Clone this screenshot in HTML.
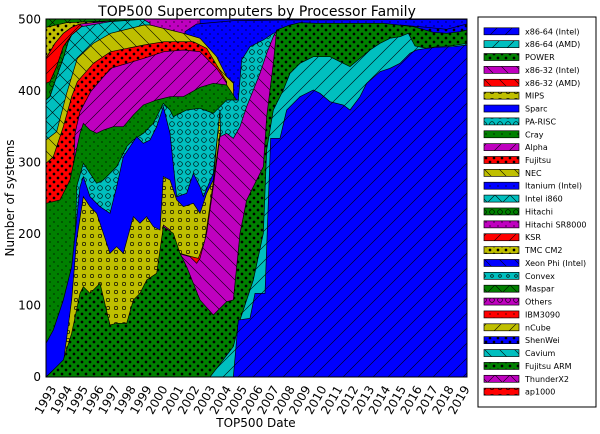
<!DOCTYPE html>
<html><head><meta charset="utf-8"><style>
html,body{margin:0;padding:0;background:#fff;}
svg{display:block;}
text{font-family:"DejaVu Sans","Liberation Sans",sans-serif;fill:#000;}
</style></head><body>
<svg width="600" height="434" viewBox="0 0 600 434" xmlns="http://www.w3.org/2000/svg">
<defs>
<clipPath id="clip"><rect x="138" y="57" width="1263" height="1074"/></clipPath>
<pattern id="bF" width="45" height="45" patternUnits="userSpaceOnUse"><rect width="45" height="45" fill="#0000ff"/><path d="M0,45L45,0M-5,5L5,-5M40,50L50,40" stroke="#000" stroke-width="1.8"/></pattern>
<pattern id="cF" width="45" height="45" patternUnits="userSpaceOnUse"><rect width="45" height="45" fill="#00bfbf"/><path d="M0,45L45,0M-5,5L5,-5M40,50L50,40" stroke="#000" stroke-width="1.8"/></pattern>
<pattern id="mF" width="45" height="45" patternUnits="userSpaceOnUse"><rect width="45" height="45" fill="#bf00bf"/><path d="M0,45L45,0M-5,5L5,-5M40,50L50,40" stroke="#000" stroke-width="1.8"/></pattern>
<pattern id="rF" width="45" height="45" patternUnits="userSpaceOnUse"><rect width="45" height="45" fill="#ff0000"/><path d="M0,45L45,0M-5,5L5,-5M40,50L50,40" stroke="#000" stroke-width="1.8"/></pattern>
<pattern id="yF" width="45" height="45" patternUnits="userSpaceOnUse"><rect width="45" height="45" fill="#bfbf00"/><path d="M0,45L45,0M-5,5L5,-5M40,50L50,40" stroke="#000" stroke-width="1.8"/></pattern>
<pattern id="bB" width="45" height="45" patternUnits="userSpaceOnUse"><rect width="45" height="45" fill="#0000ff"/><path d="M0,0L45,45M-5,40L5,50M40,-5L50,5" stroke="#000" stroke-width="1.8"/></pattern>
<pattern id="cB" width="45" height="45" patternUnits="userSpaceOnUse"><rect width="45" height="45" fill="#00bfbf"/><path d="M0,0L45,45M-5,40L5,50M40,-5L50,5" stroke="#000" stroke-width="1.8"/></pattern>
<pattern id="mB" width="45" height="45" patternUnits="userSpaceOnUse"><rect width="45" height="45" fill="#bf00bf"/><path d="M0,0L45,45M-5,40L5,50M40,-5L50,5" stroke="#000" stroke-width="1.8"/></pattern>
<pattern id="rB" width="45" height="45" patternUnits="userSpaceOnUse"><rect width="45" height="45" fill="#ff0000"/><path d="M0,0L45,45M-5,40L5,50M40,-5L50,5" stroke="#000" stroke-width="1.8"/></pattern>
<pattern id="yB" width="45" height="45" patternUnits="userSpaceOnUse"><rect width="45" height="45" fill="#bfbf00"/><path d="M0,0L45,45M-5,40L5,50M40,-5L50,5" stroke="#000" stroke-width="1.8"/></pattern>
<pattern id="cX" width="45" height="45" patternUnits="userSpaceOnUse"><rect width="45" height="45" fill="#00bfbf"/><path d="M0,45L45,0M0,0L45,45" stroke="#000" stroke-width="1.8"/></pattern>
<pattern id="gX" width="45" height="45" patternUnits="userSpaceOnUse"><rect width="45" height="45" fill="#008000"/><path d="M0,45L45,0M0,0L45,45" stroke="#000" stroke-width="1.8"/></pattern>
<pattern id="mX" width="45" height="45" patternUnits="userSpaceOnUse"><rect width="45" height="45" fill="#bf00bf"/><path d="M0,45L45,0M0,0L45,45" stroke="#000" stroke-width="1.8"/></pattern>
<pattern id="gS" width="24" height="24" patternUnits="userSpaceOnUse"><rect width="24" height="24" fill="#008000"/><circle cx="6" cy="6" r="4"/><circle cx="18" cy="18" r="4"/></pattern>
<pattern id="rS" width="24" height="24" patternUnits="userSpaceOnUse"><rect width="24" height="24" fill="#ff0000"/><circle cx="6" cy="6" r="4"/><circle cx="18" cy="18" r="4"/></pattern>
<pattern id="yS" width="24" height="24" patternUnits="userSpaceOnUse"><rect width="24" height="24" fill="#bfbf00"/><circle cx="6" cy="6" r="4"/><circle cx="18" cy="18" r="4"/></pattern>
<pattern id="bS" width="24" height="24" patternUnits="userSpaceOnUse"><rect width="24" height="24" fill="#0000ff"/><circle cx="6" cy="6" r="4"/><circle cx="18" cy="18" r="4"/></pattern>
<pattern id="gD" width="24" height="24" patternUnits="userSpaceOnUse"><rect width="24" height="24" fill="#008000"/><circle cx="6" cy="6" r="2"/><circle cx="18" cy="18" r="2"/></pattern>
<pattern id="bD" width="24" height="24" patternUnits="userSpaceOnUse"><rect width="24" height="24" fill="#0000ff"/><circle cx="6" cy="6" r="2"/><circle cx="18" cy="18" r="2"/></pattern>
<pattern id="mD" width="24" height="24" patternUnits="userSpaceOnUse"><rect width="24" height="24" fill="#bf00bf"/><circle cx="6" cy="6" r="2"/><circle cx="18" cy="18" r="2"/></pattern>
<pattern id="rD" width="24" height="24" patternUnits="userSpaceOnUse"><rect width="24" height="24" fill="#ff0000"/><circle cx="6" cy="6" r="2"/><circle cx="18" cy="18" r="2"/></pattern>
<pattern id="yO" width="24" height="24" patternUnits="userSpaceOnUse"><rect width="24" height="24" fill="#bfbf00"/><circle cx="12" cy="12" r="5" fill="none" stroke="#000" stroke-width="2"/></pattern>
<pattern id="cO" width="24" height="24" patternUnits="userSpaceOnUse"><rect width="24" height="24" fill="#00bfbf"/><circle cx="12" cy="12" r="7" fill="none" stroke="#000" stroke-width="2"/></pattern>
<pattern id="co" width="24" height="24" patternUnits="userSpaceOnUse"><rect width="24" height="24" fill="#00bfbf"/><circle cx="12" cy="12" r="4" fill="none" stroke="#000" stroke-width="2"/></pattern>
<pattern id="gO" width="24" height="24" patternUnits="userSpaceOnUse"><rect width="24" height="24" fill="#008000"/><circle cx="12" cy="12" r="7" fill="none" stroke="#000" stroke-width="2"/></pattern>
<pattern id="mO" width="24" height="24" patternUnits="userSpaceOnUse"><rect width="24" height="24" fill="#bf00bf"/><circle cx="12" cy="12" r="7" fill="none" stroke="#000" stroke-width="2"/></pattern>
<pattern id="rO" width="24" height="24" patternUnits="userSpaceOnUse"><rect width="24" height="24" fill="#ff0000"/><circle cx="12" cy="12" r="5" fill="none" stroke="#000" stroke-width="2"/></pattern>
</defs>

<g transform="scale(0.33333)">
<g clip-path="url(#clip)" stroke="#000" stroke-width="2">
<rect x="138" y="57" width="1263" height="1074" fill="#0000ff"/>
<polygon fill="url(#mD)" points="138,1131 138,57 600,57 600,1131"/>
<path fill="url(#bD)" d="M138,1131 L545,1131 555,95 590,72 700,62 840,60 1401,58 L1401,1131Z"/>
<polygon fill="url(#bS)" points="1200,75 1280,82 1340,88 1401,72 1401,95 1340,103 1300,100 1240,85"/>
<polygon fill="url(#gX)" points="138,57 430,57 430,60 330,63 200,68 138,82"/>
<polygon fill="url(#yS)" points="138,82 200,68 330,63 240,72 215,82 190,100 165,130 138,175"/>
<polygon fill="url(#rF)" points="138,175 165,130 190,100 215,82 240,72 245,80 215,105 190,140 170,200 150,245 138,250"/>
<polygon fill="url(#gO)" points="138,250 150,245 170,200 190,140 215,105 205,125 190,175 170,230 150,290 138,300"/>
<path fill="url(#cX)" d="M138,1131 L138,300 150,290 170,230 190,175 205,125 215,105 245,80 330,65 400,60 430,58 450,70 460,1131Z"/>
<path fill="url(#yB)" d="M138,1131 L138,420 170,395 200,280 232,175 280,130 332,100 432,75 450,75 550,100 600,115 650,170 680,230 700,248 715,1131Z"/>
<path fill="url(#rS)" d="M138,1131 L138,490 160,470 190,380 215,290 232,245 280,190 332,155 432,135 492,125 580,125 620,145 650,195 680,245 695,1131Z"/>
<path fill="url(#mF)" d="M138,1131 L200,1131 225,400 240,335 272,275 332,205 432,175 492,155 550,150 600,155 620,175 650,205 680,250 690,1131Z"/>
<path fill="url(#gD)" d="M138,1131 L138,610 180,600 210,540 240,400 250,370 270,390 290,400 310,390 340,380 370,380 400,345 430,315 470,300 510,290 550,290 600,262 640,250 680,255 700,285 710,300 720,330 725,1131Z"/>
<path fill="url(#cO)" d="M138,1131 L215,1131 230,560 250,490 270,520 290,550 310,540 330,520 350,500 380,440 400,420 430,400 460,370 480,330 490,310 510,330 520,350 560,330 600,325 640,340 680,300 715,300 725,180 750,140 790,120 820,100 840,95 870,1131Z"/>
<path fill="#0000ff" d="M138,1131 L138,1030 160,990 190,900 215,800 240,560 250,530 270,590 300,620 330,640 350,560 370,470 390,440 410,410 430,430 450,420 470,380 490,320 500,360 510,400 530,590 560,580 580,520 600,560 610,590 640,520 660,335 675,1131Z"/>
<path fill="url(#yO)" d="M138,1131 L160,1110 190,1090 215,900 230,720 250,590 270,620 290,640 310,700 330,760 350,740 370,760 400,650 420,670 440,650 460,680 480,690 490,530 510,540 530,600 550,620 580,610 600,640 620,580 640,540 660,330 675,1131Z"/>
<path fill="#ff0000" d="M500,1131 L500,690 540,760 575,770 595,775 615,720 640,545 660,400 680,1131Z"/>
<path fill="url(#mB)" d="M138,1131 L480,1131 490,675 510,690 540,762 570,770 590,790 600,775 620,700 640,560 660,410 680,400 700,415 720,380 740,320 760,270 780,220 800,160 820,110 830,92 845,1131Z"/>
<path fill="url(#gS)" d="M138,1131 L150,1120 190,1080 215,1000 240,880 250,860 270,880 300,850 330,975 350,970 380,970 400,900 420,880 440,840 470,820 490,680 520,700 540,760 560,800 600,900 640,945 680,905 700,900 720,700 740,600 760,560 790,500 800,350 820,190 830,90 870,75 900,68 950,70 1050,70 1150,70 1240,80 1300,97 1340,100 1380,95 1401,90 L1401,1131Z"/>
<path fill="url(#cF)" d="M138,1131 L630,1131 700,1040 720,960 740,900 760,840 790,700 800,450 820,330 850,270 870,220 900,190 940,170 990,170 1020,185 1050,200 1080,175 1110,150 1140,130 1170,115 1200,110 1225,100 1245,138 1280,145 1310,140 1360,137 1401,130 L1401,1131Z"/>
<path fill="url(#bF)" d="M138,1131 L700,1131 715,960 750,955 765,880 795,880 812,415 840,415 860,330 900,290 940,270 960,280 990,305 1030,315 1050,330 1080,290 1100,250 1140,215 1170,205 1200,190 1230,160 1250,150 1280,145 1310,142 1360,140 1401,135 L1401,1131Z"/>
</g>
<rect x="138" y="57" width="1263" height="1074" fill="none" stroke="#000" stroke-width="3"/>

<rect x="1434" y="51" width="354" height="1170" fill="#fff" stroke="#000" stroke-width="3"/>
<g stroke="#000" stroke-width="2">
<rect x="1452" y="83.4" width="105" height="21" fill="url(#bF)"/>
<rect x="1452" y="122.0" width="105" height="21" fill="url(#cF)"/>
<rect x="1452" y="160.6" width="105" height="21" fill="url(#gS)"/>
<rect x="1452" y="199.2" width="105" height="21" fill="url(#mB)"/>
<rect x="1452" y="237.8" width="105" height="21" fill="url(#rB)"/>
<rect x="1452" y="276.5" width="105" height="21" fill="url(#yO)"/>
<rect x="1452" y="315.1" width="105" height="21" fill="#0000ff"/>
<rect x="1452" y="353.7" width="105" height="21" fill="url(#cO)"/>
<rect x="1452" y="392.3" width="105" height="21" fill="url(#gD)"/>
<rect x="1452" y="430.9" width="105" height="21" fill="url(#mF)"/>
<rect x="1452" y="469.5" width="105" height="21" fill="url(#rS)"/>
<rect x="1452" y="508.1" width="105" height="21" fill="url(#yB)"/>
<rect x="1452" y="546.7" width="105" height="21" fill="url(#bD)"/>
<rect x="1452" y="585.3" width="105" height="21" fill="url(#cX)"/>
<rect x="1452" y="623.9" width="105" height="21" fill="url(#gO)"/>
<rect x="1452" y="662.6" width="105" height="21" fill="url(#mD)"/>
<rect x="1452" y="701.2" width="105" height="21" fill="url(#rF)"/>
<rect x="1452" y="739.8" width="105" height="21" fill="url(#yS)"/>
<rect x="1452" y="778.4" width="105" height="21" fill="url(#bB)"/>
<rect x="1452" y="817.0" width="105" height="21" fill="url(#co)"/>
<rect x="1452" y="855.6" width="105" height="21" fill="url(#gX)"/>
<rect x="1452" y="894.2" width="105" height="21" fill="url(#mO)"/>
<rect x="1452" y="932.8" width="105" height="21" fill="url(#rD)"/>
<rect x="1452" y="971.4" width="105" height="21" fill="url(#yF)"/>
<rect x="1452" y="1010.0" width="105" height="21" fill="url(#bS)"/>
<rect x="1452" y="1048.7" width="105" height="21" fill="url(#cB)"/>
<rect x="1452" y="1087.3" width="105" height="21" fill="url(#gS)"/>
<rect x="1452" y="1125.9" width="105" height="21" fill="url(#mX)"/>
<rect x="1452" y="1164.5" width="105" height="21" fill="url(#rO)"/>
</g>
</g>

<g font-size="8">
<text x="525" y="34.3">x86-64 (Intel)</text>
<text x="525" y="47.2">x86-64 (AMD)</text>
<text x="525" y="60.0">POWER</text>
<text x="525" y="72.9">x86-32 (Intel)</text>
<text x="525" y="85.8">x86-32 (AMD)</text>
<text x="525" y="98.7">MIPS</text>
<text x="525" y="111.5">Sparc</text>
<text x="525" y="124.4">PA-RISC</text>
<text x="525" y="137.3">Cray</text>
<text x="525" y="150.1">Alpha</text>
<text x="525" y="163.0">Fujitsu</text>
<text x="525" y="175.9">NEC</text>
<text x="525" y="188.7">Itanium (Intel)</text>
<text x="525" y="201.6">Intel i860</text>
<text x="525" y="214.5">Hitachi</text>
<text x="525" y="227.4">Hitachi SR8000</text>
<text x="525" y="240.2">KSR</text>
<text x="525" y="253.1">TMC CM2</text>
<text x="525" y="266.0">Xeon Phi (Intel)</text>
<text x="525" y="278.8">Convex</text>
<text x="525" y="291.7">Maspar</text>
<text x="525" y="304.6">Others</text>
<text x="525" y="317.4">IBM3090</text>
<text x="525" y="330.3">nCube</text>
<text x="525" y="343.2">ShenWei</text>
<text x="525" y="356.1">Cavium</text>
<text x="525" y="368.9">Fujitsu ARM</text>
<text x="525" y="381.8">ThunderX2</text>
<text x="525" y="394.7">ap1000</text>
</g>

<text x="257" y="16" font-size="14" text-anchor="middle">TOP500 Supercomputers by Processor Family</text>
<g font-size="12" text-anchor="end">
<text x="41" y="381">0</text>
<text x="41" y="309.5">100</text>
<text x="41" y="238">200</text>
<text x="41" y="166.5">300</text>
<text x="41" y="95">400</text>
<text x="41" y="23.5">500</text>
</g>
<text transform="translate(14,198) rotate(-90)" font-size="12" text-anchor="middle">Number of systems</text>
<text x="256" y="427" font-size="12" text-anchor="middle">TOP500 Date</text>
<g font-size="12" text-anchor="middle">
<text transform="translate(49,402) rotate(-60)">1993</text>
<text transform="translate(64.9,402) rotate(-60)">1994</text>
<text transform="translate(80.8,402) rotate(-60)">1995</text>
<text transform="translate(96.7,402) rotate(-60)">1996</text>
<text transform="translate(112.6,402) rotate(-60)">1997</text>
<text transform="translate(128.5,402) rotate(-60)">1998</text>
<text transform="translate(144.4,402) rotate(-60)">1999</text>
<text transform="translate(160.3,402) rotate(-60)">2000</text>
<text transform="translate(176.2,402) rotate(-60)">2001</text>
<text transform="translate(192.1,402) rotate(-60)">2002</text>
<text transform="translate(208,402) rotate(-60)">2003</text>
<text transform="translate(223.9,402) rotate(-60)">2004</text>
<text transform="translate(239.8,402) rotate(-60)">2005</text>
<text transform="translate(255.7,402) rotate(-60)">2006</text>
<text transform="translate(271.6,402) rotate(-60)">2007</text>
<text transform="translate(287.5,402) rotate(-60)">2008</text>
<text transform="translate(303.4,402) rotate(-60)">2009</text>
<text transform="translate(319.3,402) rotate(-60)">2010</text>
<text transform="translate(335.2,402) rotate(-60)">2011</text>
<text transform="translate(351.1,402) rotate(-60)">2012</text>
<text transform="translate(367,402) rotate(-60)">2013</text>
<text transform="translate(382.9,402) rotate(-60)">2014</text>
<text transform="translate(398.8,402) rotate(-60)">2015</text>
<text transform="translate(414.7,402) rotate(-60)">2016</text>
<text transform="translate(430.6,402) rotate(-60)">2017</text>
<text transform="translate(446.5,402) rotate(-60)">2018</text>
<text transform="translate(462.4,402) rotate(-60)">2019</text>
</g>
</svg>
</body></html>
